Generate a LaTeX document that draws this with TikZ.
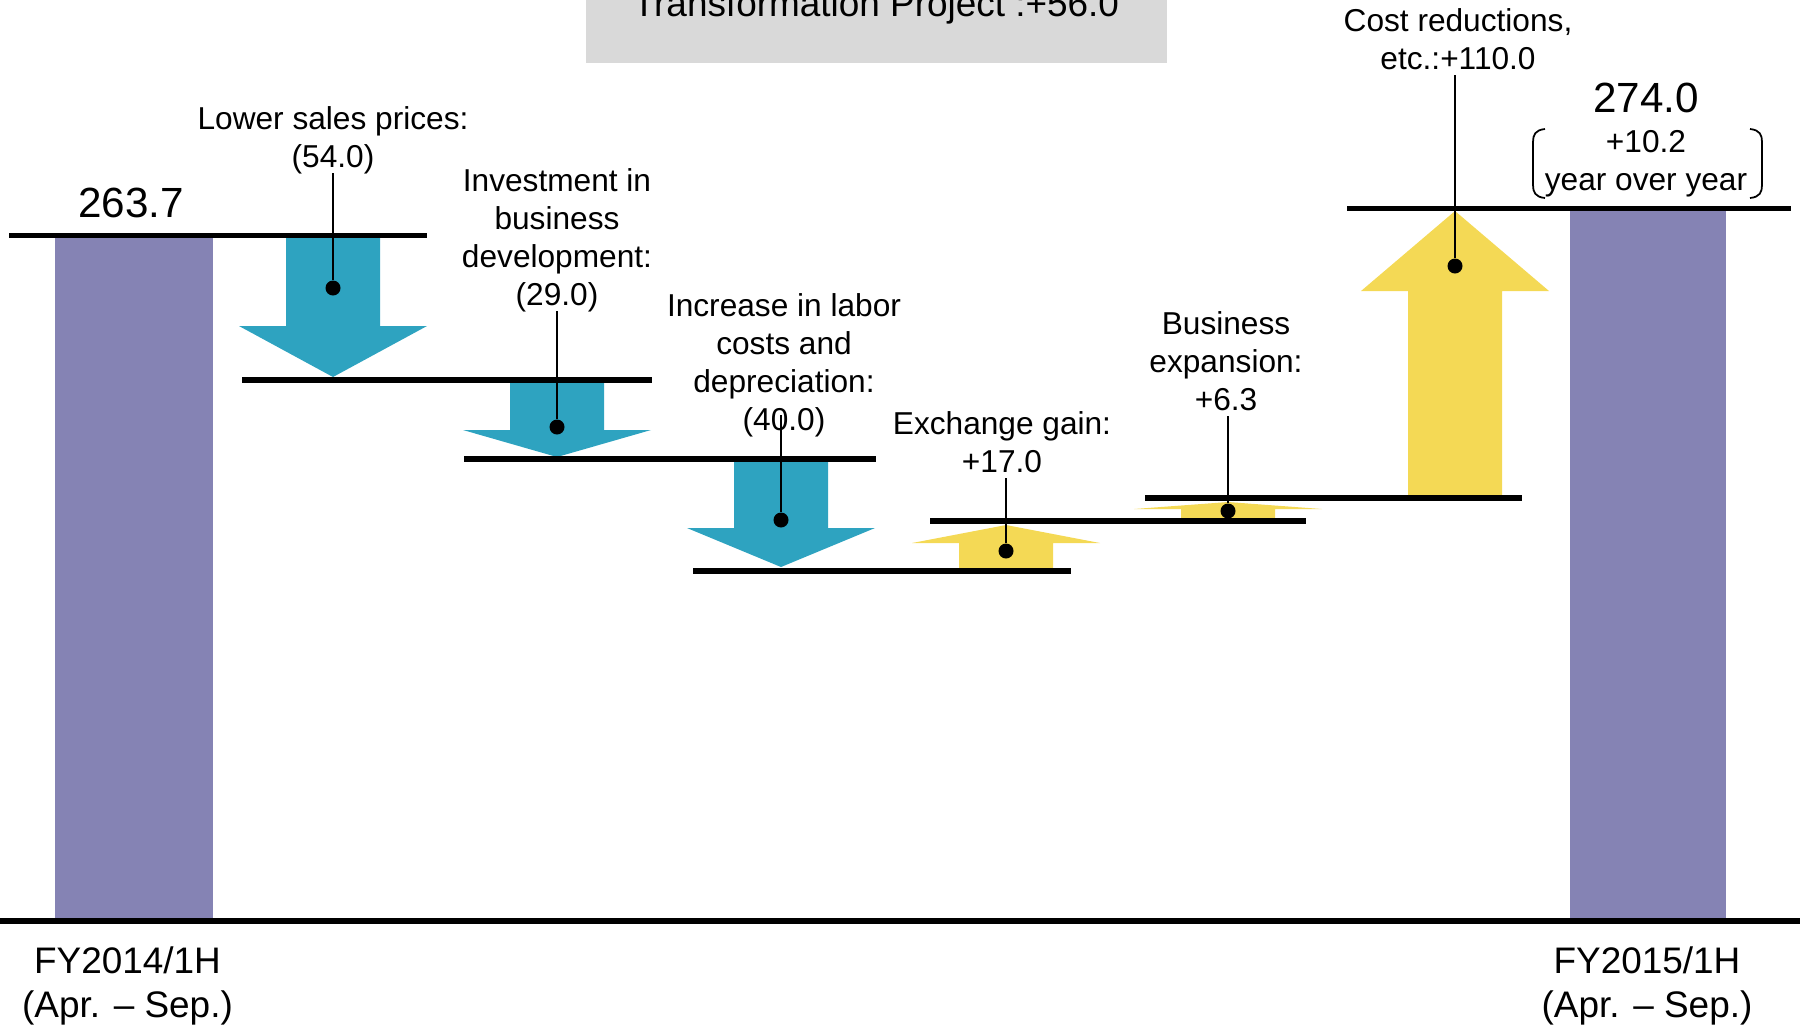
\documentclass[tikz,border=0pt]{standalone}
\usepackage{fontspec}
\setmainfont{Liberation Sans}
\definecolor{costblue}{RGB}{46,163,192}
\definecolor{gainyellow}{RGB}{244,217,85}
\definecolor{barpurple}{RGB}{133,131,180}
\definecolor{boxgray}{RGB}{217,217,217}
\def\blockarrow[#1](#2:#3:#4:#5){\fill[#1] (#2-47,#3) -- (#2+47,#3) -- (#2+47,#4) -- (#2+94,#4) -- (#2,#5) -- (#2-94,#4) -- (#2-47,#4) -- cycle;}

\begin{document}
\begin{tikzpicture}[x=0.01cm, y=-0.01cm,
		level/.style={line width=1.5pt},
		leader/.style={line width=0.6pt},
		dot/.style={circle, fill=black, inner sep=0pt, minimum size=0.15cm},
		lbl/.style={font=\fontsize{9pt}{10.8pt}\selectfont, align=center, inner xsep=0pt, inner ysep=1.5pt, text depth=0pt, anchor=south},
		bignum/.style={font=\fontsize{12pt}{14pt}\selectfont, inner sep=0pt, anchor=base},
		period/.style={font=\fontsize{10.5pt}{12.7pt}\selectfont, align=center, inner sep=0pt, text depth=0pt, anchor=south}]
			%%%%% START %%%%%
			\useasboundingbox (0,0) rectangle (1800,1026);
			\clip (0,0) rectangle (1800,1026);
			
			\fill[boxgray] (586,-10) rectangle (1167,63);
			\node[font=\fontsize{10.5pt}{12pt}\selectfont, inner sep=0pt, anchor=base] (title) at (876,16) {Transformation Project :+56.0};
			
			\fill[barpurple] (55,238) rectangle (213,921);
			\fill[barpurple] (1570,211) rectangle (1726,921);
			
			\blockarrow[costblue](333:238:326:377)
			\blockarrow[costblue](557:382:430:457)
			\blockarrow[costblue](781:461:528:567)
			\blockarrow[gainyellow](1006:568:543:525)
			\blockarrow[gainyellow](1228:519:509:502)
			\blockarrow[gainyellow](1455:496:291:211)
			
			\draw[level] (9,235.5) -- (427,235.5);
			\draw[level] (242,380) -- (652,380);
			\draw[level] (464,459) -- (876,459);
			\draw[level] (693,571) -- (1071,571);
			\draw[level] (930,521) -- (1306,521);
			\draw[level] (1145,498) -- (1522,498);
			\draw[level] (1347,208.5) -- (1791,208.5);
			\draw[line width=1.7pt] (0,921) -- (1800,921);
			
			\node[dot] (d1) at (333,288) {};
			\node[dot] (d2) at (557,427) {};
			\node[dot] (d3) at (781,520) {};
			\node[dot] (d4) at (1006,551) {};
			\node[dot] (d5) at (1228,511) {};
			\node[dot] (d6) at (1455,266) {};
			
			\node[lbl] (prices) at (333,173) {Lower sales prices:\\(54.0)};
			\node[lbl] (invest) at (557,311) {Investment in\\business\\development:\\(29.0)};
			\node[lbl] (labor) at (784,436) {Increase in labor\\costs and\\depreciation:\\(40.0)};
			\node[lbl] (exch) at (1002,478) {Exchange gain:\\+17.0};
			\node[lbl] (expand) at (1226,416) {Business\\expansion:\\+6.3};
			\node[lbl] (cuts) at (1458,75) {Cost reductions,\\etc.:+110.0};
			\coordinate (labortop) at (781,415);
			
			\draw[leader] (prices) -- (d1);
			\draw[leader] (invest) -- (d2);
			\draw[leader] (labortop) -- (d3);
			\draw[leader] (exch.south -| d4) -- (d4);
			\draw[leader] (expand.south -| d5) -- (d5);
			\draw[leader] (cuts.south -| d6) -- (d6);
			
			\node[bignum] (start) at (131,217) {263.7};
			\node[bignum] (final) at (1646,112) {274.0};
			\node[lbl, inner ysep=0pt] (yoy) at (1646,191) {+10.2\\year over year};
			\draw[line width=0.5pt] (1545,129) .. controls (1535,130) and (1533,135) .. (1533,142) -- (1533,185) .. controls (1533,192) and (1535,197) .. (1545,198);
			\draw[line width=0.5pt] (1750,129) .. controls (1760,130) and (1762,135) .. (1762,142) -- (1762,185) .. controls (1762,192) and (1760,197) .. (1750,198);
			
			\node[period] (fy14) at (127.5,1018.5) {FY2014/1H\\(Apr. -- Sep.)};
			\node[period] (fy15) at (1647,1018.5) {FY2015/1H\\(Apr. -- Sep.)};
			
			%%%%% END %%%%%
		\end{tikzpicture}
\end{document}
